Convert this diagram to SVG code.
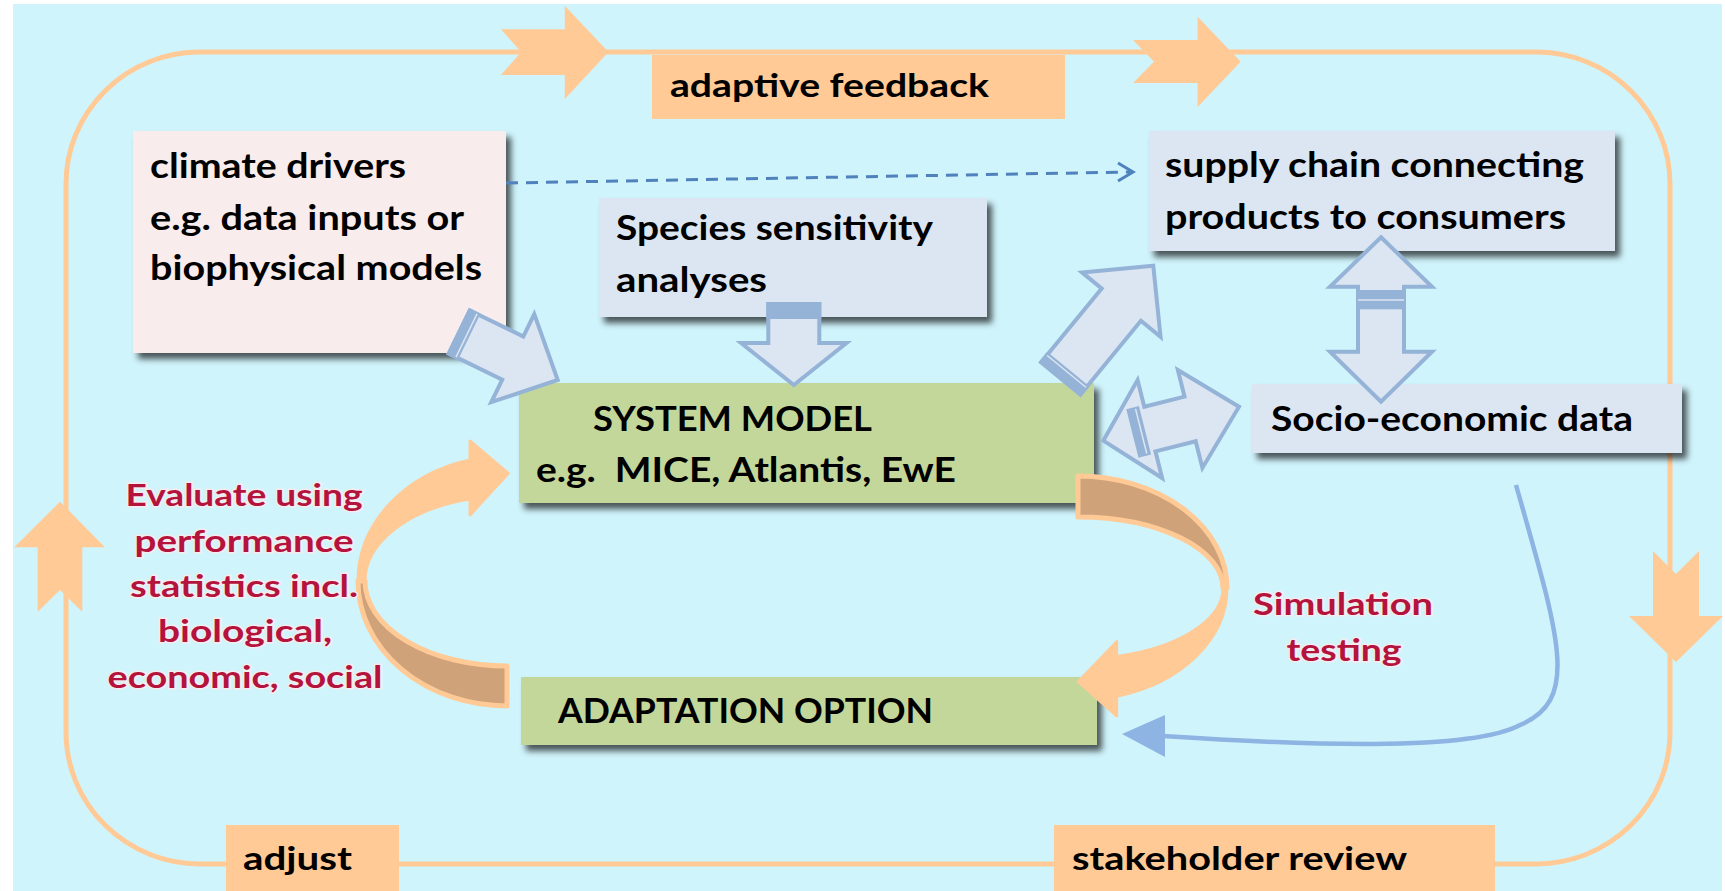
<svg xmlns="http://www.w3.org/2000/svg" width="1725" height="891" viewBox="0 0 1725 891">
<defs>
<style>
.lbl{font-family:Lato,"Liberation Sans",sans-serif;font-weight:bold;font-size:35px;fill:#000}
.lbl2{font-family:Lato,"Liberation Sans",sans-serif;font-weight:bold;font-size:32px;fill:#000}
.red{font-family:Lato,"Liberation Sans",sans-serif;font-weight:bold;font-size:31px;fill:#B3133D;stroke:#F4ECEE;stroke-width:3px;paint-order:stroke;text-anchor:middle}
.peach{fill:#FFCA96}
.blk{fill:#DCE6F2;stroke:#95B3D7;stroke-width:4;stroke-linejoin:miter}
.band{fill:#95B3D7}
.bline{stroke:#DCE6F2;stroke-width:1.5}
.pbox{fill:#F8ECEC}
.gbox{fill:#DCE6F2}
.grbox{fill:#C4D79B}
</style>
<filter id="sh" x="-10%" y="-10%" width="130%" height="150%">
<feDropShadow dx="5" dy="6" stdDeviation="3" flood-color="#000" flood-opacity="0.65"/>
</filter>
</defs>

<rect x="13" y="4" width="1709" height="887" fill="#D0F4FC"/>

<g id="loop">
<rect x="66" y="52" width="1604" height="812" rx="134" ry="132" fill="none" stroke="#FFCA96" stroke-width="5"/>
<polygon class="peach" points="500.8,29.3 564.8,29.3 564.8,5.7 608.5,52 564.8,99 564.8,75 500.8,75 521.2,52"/>
<polygon class="peach" points="1133,40 1197.6,40 1197.6,16.7 1240.7,61.7 1197.6,107 1197.6,83 1133,83 1154,61.7"/>
<polygon class="peach" points="60,501.7 105,547.3 82.3,547.3 82.3,611.7 60,590 37.7,611.7 37.7,547.3 14.3,547.3"/>
<polygon class="peach" points="1653,551 1676,574 1699,551 1699,616 1723,616 1676,662 1629,616 1653,616"/>
</g>

<g id="label-adaptive-feedback">
<rect class="peach" x="652" y="55" width="413" height="64"/>
<text class="lbl2" x="670" y="97" textLength="319" lengthAdjust="spacingAndGlyphs">adaptive feedback</text>
</g>
<g id="label-adjust">
<rect class="peach" x="226" y="825" width="173" height="66"/>
<text class="lbl2" x="243" y="870" textLength="109" lengthAdjust="spacingAndGlyphs">adjust</text>
</g>
<g id="label-stakeholder-review">
<rect class="peach" x="1054" y="825" width="441" height="66"/>
<text class="lbl2" x="1072" y="870" textLength="335" lengthAdjust="spacingAndGlyphs">stakeholder review</text>
</g>

<g id="node-climate">
<rect class="pbox" x="133" y="131" width="373" height="222" filter="url(#sh)"/>
<text class="lbl" x="150" y="178" textLength="256" lengthAdjust="spacingAndGlyphs">climate drivers</text>
<text class="lbl" x="150" y="230" textLength="314" lengthAdjust="spacingAndGlyphs">e.g. data inputs or</text>
<text class="lbl" x="150" y="280" textLength="332" lengthAdjust="spacingAndGlyphs">biophysical models</text>
</g>

<g id="node-species">
<rect class="gbox" x="599" y="198" width="388" height="119" filter="url(#sh)"/>
<text class="lbl" x="616" y="240" textLength="317" lengthAdjust="spacingAndGlyphs">Species sensitivity</text>
<text class="lbl" x="616" y="292" textLength="151" lengthAdjust="spacingAndGlyphs">analyses</text>
</g>

<g id="node-supply">
<rect class="gbox" x="1149" y="131" width="466" height="120" filter="url(#sh)"/>
<text class="lbl" x="1165" y="177" textLength="419" lengthAdjust="spacingAndGlyphs">supply chain connecting</text>
<text class="lbl" x="1165" y="229" textLength="401" lengthAdjust="spacingAndGlyphs">products to consumers</text>
</g>

<g id="node-socio">
<rect class="gbox" x="1252" y="384" width="430" height="69" filter="url(#sh)"/>
<text class="lbl" x="1271" y="431" textLength="362" lengthAdjust="spacingAndGlyphs">Socio-economic data</text>
</g>

<g id="node-system">
<rect class="grbox" x="519" y="383" width="575" height="120" filter="url(#sh)"/>
<text class="lbl" x="593" y="431" textLength="279" lengthAdjust="spacingAndGlyphs">SYSTEM MODEL</text>
<text class="lbl" x="536" y="482" textLength="420" lengthAdjust="spacingAndGlyphs">e.g.&#160; MICE, Atlantis, EwE</text>
</g>

<g id="node-adaptation">
<rect class="grbox" x="521" y="677" width="576" height="68" filter="url(#sh)"/>
<text class="lbl" x="558" y="723" textLength="375" lengthAdjust="spacingAndGlyphs">ADAPTATION OPTION</text>
</g>

<g id="connectors">
<line x1="506" y1="183" x2="1130" y2="172" stroke="#4F81BD" stroke-width="3" stroke-dasharray="12 8"/>
<polyline points="1118,163 1133,172 1118,181" fill="none" stroke="#4F81BD" stroke-width="3"/>

<g transform="translate(459.3,332) rotate(26)">
<path class="blk" d="M0,-24 L59.5,-24 L59.5,-49 L109.5,0 L59.5,49 L59.5,24 L0,24 Z"/>
<rect class="band" x="-2" y="-26" width="13" height="52"/>
<line class="bline" x1="8" y1="-24" x2="8" y2="24"/>
</g>

<g transform="translate(793.8,304) rotate(90)">
<path class="blk" d="M0,-25.5 L39,-25.5 L39,-52.7 L81,0 L39,52.7 L39,25.5 L0,25.5 Z"/>
<rect class="band" x="-2" y="-27.5" width="17" height="55"/>
</g>

<g transform="translate(1060.8,378.3) rotate(-50.6)">
<path class="blk" d="M0,-25.4 L95.3,-25.4 L95.3,-50.8 L145.7,0 L95.3,50.8 L95.3,25.4 L0,25.4 Z"/>
<rect class="band" x="-2" y="-27.4" width="14" height="54.8"/>
<line class="bline" x1="9" y1="-25" x2="9" y2="25"/>
</g>

<g transform="translate(1103.3,440.7) rotate(-14.07)">
<path class="blk" d="M0,0 L48,-50.5 L48,-23 L89.5,-23 L89.5,-50.5 L139.9,0 L89.5,50.5 L89.5,23 L48,23 L48,50.5 Z"/>
<rect class="band" x="30" y="-25" width="13" height="50"/>
<line class="bline" x1="39" y1="-23" x2="39" y2="23"/>
</g>

<g>
<path class="blk" d="M1381,237.3 L1432,286.7 L1404,286.7 L1404,351.7 L1432,351.7 L1381,401.7 L1330,351.7 L1358,351.7 L1358,286.7 L1330,286.7 Z"/>
<rect class="band" x="1356" y="290" width="50" height="19.3"/>
<line class="bline" x1="1358" y1="300" x2="1404" y2="300"/>
</g>

<path d="M1516,485 C1560,640 1580,700 1520,725 C1470,752 1300,745 1163,736" fill="none" stroke="#8DB4E2" stroke-width="4.5"/>
<polygon points="1122,734 1165,715 1165,757" fill="#8DB4E2"/>

<g id="curve-evaluate">
<path d="M358,581 A149,125 0 0,0 507,706 L507,666 A142,85 0 0,1 365,581 Z" fill="#CFA27A" stroke="#FFCA96" stroke-width="5" stroke-linejoin="round"/>
<path d="M358,581 A149,125 0 0,1 470,459.9 L470,441 L508.3,473.3 L470,515 L470,498.9 A142,85 0 0,0 365,581 Z" fill="#FFCA96" stroke="#FFCA96" stroke-width="3" stroke-linejoin="round"/>
</g>

<g id="curve-simulation">
<path d="M1078,476 A149,112 0 0,1 1227,588 L1223,588 A145,71 0 0,0 1078,517 Z" fill="#CFA27A" stroke="#FFCA96" stroke-width="5" stroke-linejoin="round"/>
<path d="M1227,588 A149,112 0 0,1 1116.7,696.2 L1116.7,716 L1078.3,681.7 L1116.7,641.7 L1116.7,656.4 A145,71 0 0,0 1223,588 Z" fill="#FFCA96" stroke="#FFCA96" stroke-width="3" stroke-linejoin="round"/>
</g>
</g>

<g id="text-evaluate">
<text class="red" x="244" y="506" textLength="237" lengthAdjust="spacingAndGlyphs">Evaluate using</text>
<text class="red" x="244" y="552" textLength="219" lengthAdjust="spacingAndGlyphs">performance</text>
<text class="red" x="244" y="597" textLength="228" lengthAdjust="spacingAndGlyphs">statistics incl.</text>
<text class="red" x="245" y="642" textLength="174" lengthAdjust="spacingAndGlyphs">biological,</text>
<text class="red" x="245" y="688" textLength="275" lengthAdjust="spacingAndGlyphs">economic, social</text>
</g>
<g id="text-simulation">
<text class="red" x="1343" y="615" textLength="180" lengthAdjust="spacingAndGlyphs">Simulation</text>
<text class="red" x="1344" y="661" textLength="115" lengthAdjust="spacingAndGlyphs">testing</text>
</g>
</svg>
